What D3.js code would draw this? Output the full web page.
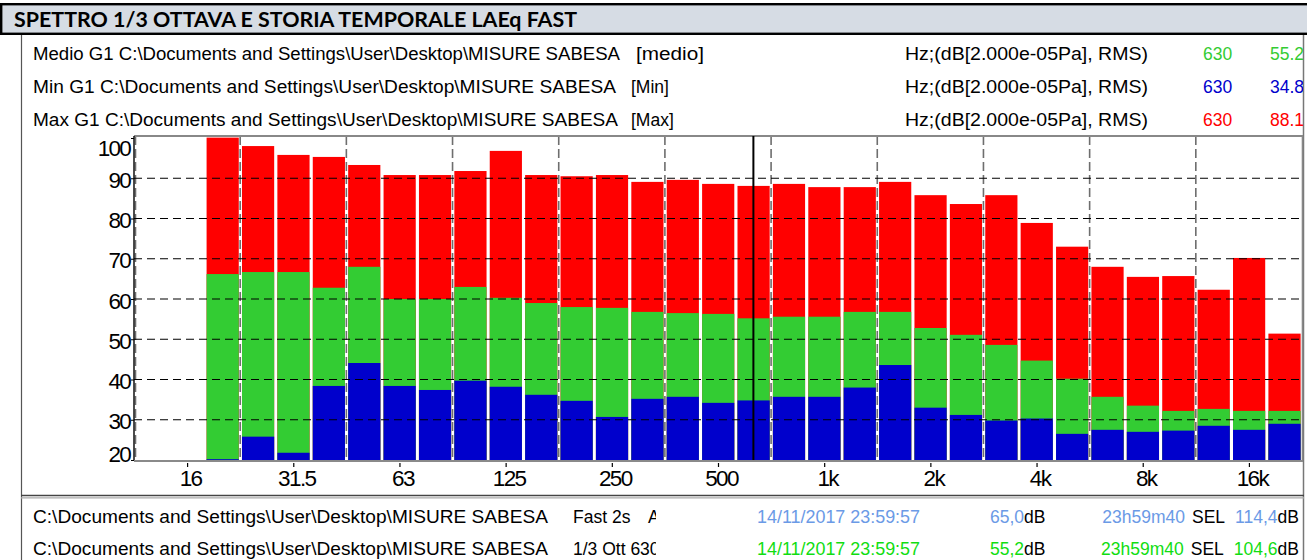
<!DOCTYPE html>
<html>
<head>
<meta charset="utf-8">
<script src="https://cdn.jsdelivr.net/npm/d3@7"></script>
<style>
  html, body { margin: 0; padding: 0; background: #fff; }
  svg { display: block; }
  .lbl { font-family: "Liberation Sans", Arial, sans-serif; }
</style>
</head>
<body>
<svg id="chart" width="1307" height="560"></svg>
<script>
// 1/3-octave bands (nominal labels) and levels in dB
const bands = ["20","25","31.5","40","50","63","80","100","125","160","200","250","315","400","500",
               "630","800","1k","1.25k","1.6k","2k","2.5k","3.15k","4k","5k","6.3k","8k","10k","12.5k","16k","20k"];
const maxDb   = [100.1, 98.0, 95.8, 95.3, 93.3, 90.8, 90.8, 91.8, 96.8, 90.8, 90.5, 90.8, 89.1, 89.6, 88.6,
                 88.1, 88.6, 87.8, 87.8, 89.1, 85.8, 83.6, 85.8, 78.9, 73.0, 68.0, 65.5, 65.7, 62.3, 70.2, 51.4];
const medioDb = [66.2, 66.7, 66.7, 62.8, 68.0, 60.0, 60.0, 63.0, 60.3, 59.0, 58.0, 57.8, 56.8, 56.5, 56.3,
                 55.2, 55.6, 55.6, 56.8, 56.8, 52.8, 51.1, 48.6, 44.7, 40.2, 35.7, 33.5, 32.2, 32.7, 32.2, 32.2];
const minDb   = [20.2, 25.8, 21.8, 38.4, 44.1, 38.4, 37.4, 39.7, 38.2, 36.2, 34.7, 30.7, 35.2, 35.7, 34.2,
                 34.8, 35.7, 35.7, 38.0, 43.6, 33.0, 31.2, 29.8, 30.3, 26.5, 27.5, 27.0, 27.3, 28.5, 27.5, 29.0];

// octave tick labels along the frequency axis
const octaveTicks = ["16","31.5","63","125","250","500","1k","2k","4k","8k","16k"];
const yTicks = [20, 30, 40, 50, 60, 70, 80, 90, 100];
const yGrid  = [30, 40, 50, 60, 70, 80, 90];
const cursorBand = "630";

// header rows
const legendRows = [
  { name: "Medio G1 C:\\Documents and Settings\\User\\Desktop\\MISURE SABESA", tag: "[medio]", freq: "630", value: "55.2", color: "#33cc33" },
  { name: "Min G1 C:\\Documents and Settings\\User\\Desktop\\MISURE SABESA",   tag: "[Min]",   freq: "630", value: "34.8", color: "#0000cc" },
  { name: "Max G1 C:\\Documents and Settings\\User\\Desktop\\MISURE SABESA",   tag: "[Max]",   freq: "630", value: "88.1", color: "#ff0000" }
];
const unitText = "Hz;(dB[2.000e-05Pa], RMS)";

// footer rows
const footRows = [
  { path: "C:\\Documents and Settings\\User\\Desktop\\MISURE SABESA", mode: "Fast 2s", modeTail: "A", date: "14/11/2017 23:59:57", leq: "65,0", dur: "23h59m40", sel: "114,4", color: "#6b9ae6" },
  { path: "C:\\Documents and Settings\\User\\Desktop\\MISURE SABESA", mode: "1/3 Ott 630", modeTail: "", date: "14/11/2017 23:59:57", leq: "55,2", dur: "23h59m40", sel: "104,6", color: "#11dd11" }
];

const svg = d3.select("#chart");

// band index 0 is the 20 Hz band; exact centre = 1000 * 2^(n/3)
const bandCentre = i => 1000 * Math.pow(2, (i - 17) / 3);
const tickCentre = i => 1000 * Math.pow(2, i - 6);

const plot = { left: 134, right: 1302, top: 136, bottom: 460 };

const x = d3.scaleLog()
  .domain([1000 * Math.pow(2, -6.5), 1000 * Math.pow(2, 4.5)])
  .range([plot.left, plot.right]);
const y = d3.scaleLinear()
  .domain([20, 100.5])
  .range([plot.bottom, plot.top]);

// ---- title bar ----
svg.append("rect")
  .attr("x", 1.2).attr("y", 4.2).attr("width", 1312).attr("height", 29.6)
  .attr("fill", "#d6dce4").attr("stroke", "#000").attr("stroke-width", 2.4);
svg.append("text")
  .attr("x", 14).attr("y", 26.5)
  .attr("font-family", "Lato, 'Open Sans', sans-serif")
  .attr("font-weight", "bold").attr("font-size", 20)
  .attr("textLength", 563).attr("lengthAdjust", "spacingAndGlyphs")
  .attr("fill", "#000")
  .text("SPETTRO 1/3 OTTAVA E STORIA TEMPORALE LAEq FAST");

// ---- panel frame ----
svg.append("line").attr("x1", 21.5).attr("x2", 21.5).attr("y1", 35).attr("y2", 560)
  .attr("stroke", "#555").attr("stroke-width", 1.2);
svg.append("line").attr("x1", 1303.5).attr("x2", 1303.5).attr("y1", 35).attr("y2", 560)
  .attr("stroke", "#777").attr("stroke-width", 1.5);

// ---- header legend ----
const defs = svg.append("defs");
defs.append("clipPath").attr("id", "clipRight")
  .append("rect").attr("x", 0).attr("y", 0).attr("width", 1303).attr("height", 560);
defs.append("clipPath").attr("id", "clipMode")
  .append("rect").attr("x", 0).attr("y", 0).attr("width", 656).attr("height", 560);

const nameEnds = [620, 616, 618];
const legend = svg.append("g").attr("class", "lbl").attr("font-size", 17.5).attr("clip-path", "url(#clipRight)");
legendRows.forEach((r, i) => {
  const by = 60 + i * 33;
  legend.append("text").attr("x", 33).attr("y", by).attr("fill", "#000")
    .attr("textLength", nameEnds[i] - 33).attr("lengthAdjust", "spacingAndGlyphs").text(r.name);
  const tag = legend.append("text").attr("x", i === 0 ? 636 : 631).attr("y", by).attr("fill", "#000").text(r.tag);
  if (i === 0) tag.attr("textLength", 68).attr("lengthAdjust", "spacingAndGlyphs");
  legend.append("text").attr("x", 905).attr("y", by).attr("fill", "#000")
    .attr("textLength", 243).attr("lengthAdjust", "spacingAndGlyphs").text(unitText);
  legend.append("text").attr("x", 1203).attr("y", by).attr("fill", r.color).text(r.freq);
  legend.append("text").attr("x", 1270).attr("y", by).attr("fill", r.color).text(r.value);
});

// ---- plot ----
const g = svg.append("g");

// bars: max (red), medio (green), min (blue) overlaid from the 20 dB floor
const bandEdges = i => [x(bandCentre(i) * Math.pow(2, -1 / 6)), x(bandCentre(i) * Math.pow(2, 1 / 6))];
const series = [
  { values: maxDb,   color: "#ff0000" },
  { values: medioDb, color: "#33cc33" },
  { values: minDb,   color: "#0000cc" }
];
series.forEach(s => {
  g.append("g").selectAll("rect").data(s.values).join("rect")
    .attr("x", (d, i) => bandEdges(i)[0] + 1.8)
    .attr("width", (d, i) => bandEdges(i)[1] - bandEdges(i)[0] - 3.2)
    .attr("y", d => y(d))
    .attr("height", d => y(20) - y(d))
    .attr("fill", s.color);
});

// vertical dashed grid on octave boundaries
const vGrid = d3.range(-7, 4).map(k => 1000 * Math.pow(2, k + 0.5));
g.append("g").selectAll("line").data(vGrid).join("line")
  .attr("x1", d => x(d) + (d < 20 ? 1.5 : 0)).attr("x2", d => x(d) + (d < 20 ? 1.5 : 0))
  .attr("y1", plot.top).attr("y2", plot.bottom)
  .attr("stroke", "#6e6e6e").attr("stroke-width", 1.6).attr("stroke-dasharray", "9,4");

// horizontal dashed grid
g.append("g").selectAll("line").data(yGrid).join("line")
  .attr("x1", plot.left).attr("x2", plot.right)
  .attr("y1", d => y(d)).attr("y2", d => y(d))
  .attr("stroke", "#000").attr("stroke-width", 1.1).attr("stroke-dasharray", "8,5");

// frame: top and right grey
g.append("line").attr("x1", plot.left).attr("x2", plot.right + 1).attr("y1", plot.top).attr("y2", plot.top)
  .attr("stroke", "#888").attr("stroke-width", 1.8);
g.append("line").attr("x1", plot.right + 0.5).attr("x2", plot.right + 0.5).attr("y1", plot.top).attr("y2", plot.bottom)
  .attr("stroke", "#888").attr("stroke-width", 1.6);

// x axis
const xAxis = d3.axisBottom(x)
  .tickValues(octaveTicks.map((t, i) => tickCentre(i)))
  .tickFormat((d, i) => octaveTicks[i])
  .tickSize(6).tickPadding(5);
const xg = g.append("g").attr("transform", `translate(0,${plot.bottom + 1})`).call(xAxis);
xg.select(".domain").attr("stroke", "#8a8a8a").attr("stroke-width", 2).attr("d", `M${plot.left},0H${plot.right + 1}`);
xg.selectAll(".tick line").attr("stroke", "#000").attr("stroke-width", 1.2).attr("y1", 2);
xg.selectAll(".tick text")
  .attr("font-family", "'Liberation Sans', Arial, sans-serif")
  .attr("font-size", 22.5).attr("letter-spacing", "-1.6px")
  .attr("fill", "#000").attr("dx", 3).attr("dy", "0.62em");

// y axis
const yAxis = d3.axisLeft(y).tickValues(yTicks).tickFormat(d3.format("d")).tickSize(3).tickPadding(1);
const yg = g.append("g").attr("transform", `translate(${plot.left},0)`).call(yAxis);
yg.select(".domain").attr("stroke", "#000").attr("stroke-width", 1.4).attr("d", `M0,${plot.top}V${plot.bottom}`);
yg.selectAll(".tick line").attr("stroke", "#000");
yg.selectAll(".tick text")
  .attr("font-family", "'Liberation Sans', Arial, sans-serif")
  .attr("font-size", 22.5).attr("letter-spacing", "-1.8px")
  .attr("fill", "#000")
  .attr("dy", d => d === 100 ? "0.78em" : d === 20 ? "0.05em" : "0.4em");

// cursor at the selected band
const ci = bands.indexOf(cursorBand);
g.append("line")
  .attr("x1", x(bandCentre(ci))).attr("x2", x(bandCentre(ci)))
  .attr("y1", plot.top).attr("y2", plot.bottom)
  .attr("stroke", "#000").attr("stroke-width", 2);

// ---- footer ----
svg.append("line").attr("x1", 21).attr("x2", 1304).attr("y1", 495.5).attr("y2", 495.5)
  .attr("stroke", "#444").attr("stroke-width", 1.4);
svg.append("line").attr("x1", 21).attr("x2", 1304).attr("y1", 497.8).attr("y2", 497.8)
  .attr("stroke", "#aaa").attr("stroke-width", 1.2);

const foot = svg.append("g").attr("class", "lbl").attr("font-size", 17.5).attr("clip-path", "url(#clipRight)");
footRows.forEach((r, i) => {
  const by = 523 + i * 32;
  foot.append("text").attr("x", 33).attr("y", by).attr("fill", "#000")
    .attr("textLength", 515).attr("lengthAdjust", "spacingAndGlyphs").text(r.path);
  const m = foot.append("g").attr("clip-path", "url(#clipMode)")
    .append("text").attr("x", 573).attr("y", by).attr("fill", "#000");
  m.append("tspan").text(r.mode);
  if (r.modeTail) m.append("tspan").attr("x", 648).text(r.modeTail);
  foot.append("text").attr("x", 757).attr("y", by).attr("fill", r.color)
    .attr("textLength", 163).attr("lengthAdjust", "spacingAndGlyphs").text(r.date);
  const l = foot.append("text").attr("x", 990).attr("y", by);
  l.append("tspan").attr("fill", r.color).text(r.leq);
  l.append("tspan").attr("fill", "#000").text("dB");
  // right-hand group laid out from the right edge
  const s = foot.append("text").attr("x", 1299).attr("y", by).attr("text-anchor", "end");
  s.append("tspan").attr("fill", r.color).text(r.sel);
  s.append("tspan").attr("fill", "#000").text("dB");
  const selStart = 1299 - s.node().getComputedTextLength();
  const selLbl = foot.append("text").attr("x", selStart - 10).attr("y", by)
    .attr("text-anchor", "end").attr("fill", "#000").text("SEL");
  const durEnd = selStart - 10 - selLbl.node().getComputedTextLength() - 7;
  foot.append("text").attr("x", durEnd).attr("y", by).attr("text-anchor", "end")
    .attr("fill", r.color).text(r.dur);
});
</script>
</body>
</html>
